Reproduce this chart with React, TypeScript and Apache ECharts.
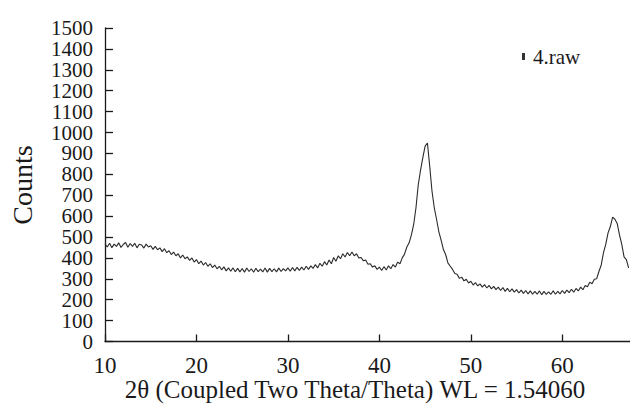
import React, { useEffect, useRef } from "react";
import * as echarts from "echarts";

// 2θ scan: start angle and constant step (deg) of the instrument
const scanStart = 10;
const scanStep = 0.25;

// Counts, every 0.25° from 10° to 67.25°
const counts: number[] = [
  468, 452, 470, 449, // 10
  466, 455, 472, 450, // 11
  464, 474, 451, 469, // 12
  455, 470, 448, 465, // 13
  462, 447, 466, 452, // 14
  458, 441, 455, 439, // 15
  448, 430, 444, 425, // 16
  434, 416, 428, 410, // 17
  420, 400, 414, 396, // 18
  405, 388, 400, 380, // 19
  392, 372, 385, 366, // 20
  378, 360, 372, 354, // 21
  366, 348, 360, 343, // 22
  357, 338, 352, 336, // 23
  352, 334, 350, 333, // 24
  349, 332, 352, 335, // 25
  348, 331, 350, 334, // 26
  346, 333, 352, 332, // 27
  350, 334, 348, 333, // 28
  351, 335, 349, 338, // 29
  352, 336, 354, 338, // 30
  355, 340, 356, 342, // 31
  360, 345, 362, 350, // 32
  368, 352, 374, 360, // 33
  382, 366, 390, 372, // 34
  402, 384, 410, 396, // 35
  420, 404, 426, 410, // 36
  428, 410, 420, 400, // 37
  402, 386, 390, 370, // 38
  372, 356, 362, 345, // 39
  356, 340, 358, 342, // 40
  362, 348, 368, 356, // 41
  380, 372, 400, 418, // 42
  452, 472, 510, 560, // 43
  640, 750, 820, 880, // 44
  935, 950, 840, 720, // 45
  640, 585, 525, 485, // 46
  440, 415, 375, 360, // 47
  345, 325, 322, 302, // 48
  308, 290, 298, 280, // 49
  288, 270, 282, 266, // 50
  276, 260, 272, 256, // 51
  268, 252, 264, 248, // 52
  260, 244, 258, 240, // 53
  254, 238, 252, 236, // 54
  248, 232, 246, 230, // 55
  244, 228, 242, 226, // 56
  240, 226, 242, 224, // 57
  240, 225, 238, 226, // 58
  242, 226, 240, 228, // 59
  244, 230, 246, 234, // 60
  250, 236, 254, 242, // 61
  260, 248, 268, 262, // 62
  284, 276, 298, 300, // 63
  335, 365, 425, 465, // 64
  520, 550, 595, 585, // 65
  565, 510, 465, 405, // 66
  392, 352,           // 67
];

const xTicks = [10, 20, 30, 40, 50, 60];
const yMax = 1500;
const xMax = 67.4;
const seriesName = "4.raw";
const xTitle = "2θ (Coupled Two Theta/Theta) WL = 1.54060";
const yTitle = "Counts";

const FONT = "'Liberation Serif', 'Times New Roman', serif";
const INK = "#1a1a1a";

export default function App() {
  const ref = useRef<HTMLDivElement>(null);
  useEffect(() => {
    if (!ref.current) return;
    const chart = echarts.init(ref.current, undefined, { renderer: "svg" });
    const data = counts.map((c, i) => [scanStart + i * scanStep, c]);
    chart.setOption({
      animation: false,
      backgroundColor: "#ffffff",
      grid: { left: 105, right: 0, top: 28, bottom: 65.5, containLabel: false },
      legend: {
        show: true,
        left: 517,
        top: 41,
        icon: "rect",
        itemWidth: 3,
        itemHeight: 7,
        itemGap: 4,
        textStyle: { fontFamily: FONT, fontSize: 21, color: INK, padding: [0, 0, 0, 3] },
        data: [{ name: seriesName, itemStyle: { color: "#333" } }],
      },
      xAxis: {
        type: "value",
        min: 10,
        max: xMax,
        interval: 10,
        axisLine: { show: true, lineStyle: { color: INK, width: 1.3 } },
        axisTick: { show: true, inside: true, length: 7, lineStyle: { color: INK, width: 1.3 } },
        splitLine: { show: false },
        axisLabel: {
          fontFamily: FONT,
          fontSize: 23,
          color: INK,
          margin: 12,
          showMaxLabel: false,
          formatter: (v: number) => (xTicks.includes(v) ? String(v) : ""),
        },
      },
      yAxis: {
        type: "value",
        min: 0,
        max: yMax,
        interval: 100,
        axisLine: { show: true, lineStyle: { color: INK, width: 1.3 } },
        axisTick: { show: true, inside: true, length: 8, lineStyle: { color: INK, width: 1.3 } },
        splitLine: { show: false },
        axisLabel: {
          fontFamily: FONT,
          fontSize: 21,
          color: INK,
          margin: 12,
          lineHeight: 20,
          showMinLabel: true,
          showMaxLabel: true,
          formatter: (v: number) => String(v),
        },
      },
      graphic: [
        {
          type: "text",
          x: 355,
          y: 389,
          style: {
            text: xTitle,
            fontFamily: FONT,
            fontSize: 25,
            fill: INK,
            align: "center",
            verticalAlign: "middle",
          },
        },
        {
          type: "text",
          x: 22,
          y: 185,
          rotation: Math.PI / 2,
          style: {
            text: yTitle,
            fontFamily: FONT,
            fontSize: 28,
            fill: INK,
            align: "center",
            verticalAlign: "middle",
          },
        },
      ],
      series: [
        {
          name: seriesName,
          type: "line",
          data,
          showSymbol: false,
          symbol: "none",
          lineStyle: { color: "#2b2b2b", width: 1.1 },
          itemStyle: { color: "#333" },
        },
      ],
    });
    return () => chart.dispose();
  }, []);
  return <div ref={ref} style={{ width: 630, height: 407, position: "absolute", left: 0, top: 0 }} />;
}
